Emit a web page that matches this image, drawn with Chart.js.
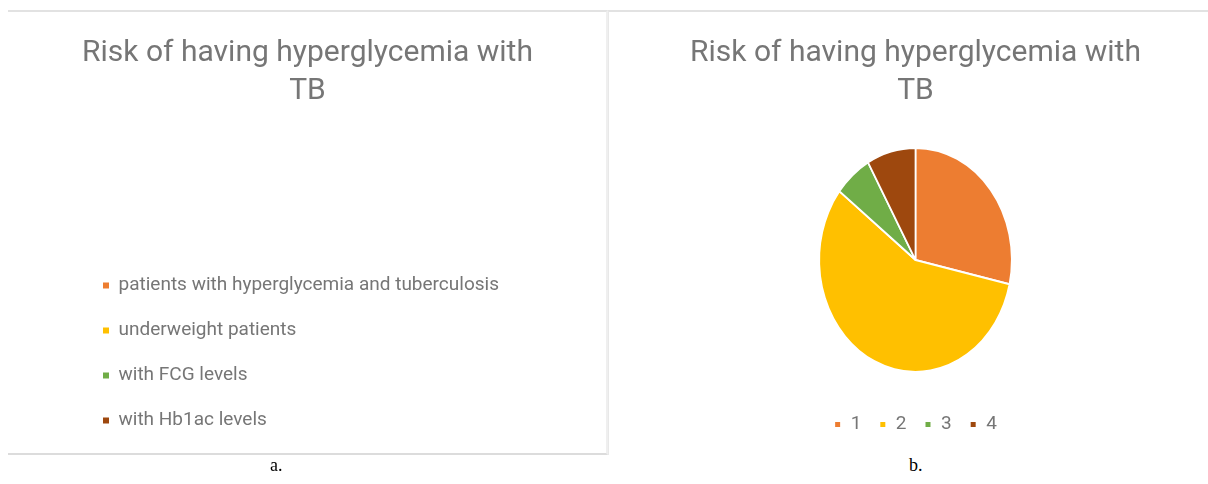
<!DOCTYPE html>
<html>
<head>
<meta charset="utf-8">
<script src="https://cdn.jsdelivr.net/npm/chart.js@4.4.1/dist/chart.umd.min.js"></script>
<style>
body{margin:0;background:#fff;width:1208px;height:484px;position:relative;overflow:hidden;}
.panel{position:absolute;box-sizing:border-box;}
#panelA{left:8px;top:10px;width:600px;height:445px;border-top:2px solid #e2e2e2;border-bottom:2px solid #dcdcdc;border-right:2px solid #efefef;}
#panelB{left:608px;top:10px;width:600px;height:445px;border-top:2px solid #e2e2e2;border-left:1px solid #e8e8e8;}
.panel canvas{display:block;}
#legendaA{position:absolute;left:0;top:238px;}
.cap{position:absolute;top:455px;font-family:"Liberation Serif",serif;font-size:18px;color:#000;}
</style>
</head>
<body>
<div class="panel" id="panelA">
<canvas id="graficoA" width="598" height="441"></canvas>
<canvas id="legendaA" width="598" height="212"></canvas>
</div>
<div class="panel" id="panelB"><canvas id="graficoB" width="599" height="443"></canvas></div>
<div class="cap" id="capA" style="left:270px"></div>
<div class="cap" id="capB" style="left:909px"></div>

<script>
/* =============================
DADOS
============================= */

const titleLines=["Risk of having hyperglycemia with","TB"];
const categoryNames=[
"patients with hyperglycemia and tuberculosis",
"underweight patients",
"with FCG levels",
"with Hb1ac levels"
];
const sliceLabels=["1","2","3","4"];
const riskShares=[28.5,57.0,6.3,8.2];
const sliceColors=["#ED7D31","#FFC000","#70AD47","#9E480E"];
const panelCaptions=["a.","b."];

const greyText="#767676";

document.getElementById("capA").innerText=panelCaptions[0];
document.getElementById("capB").innerText=panelCaptions[1];

/* =============================
ELIPSE (imagem original esticada)
============================= */

const squash={
id:"squash",
beforeDatasetsDraw(chart){
const arc=chart.getDatasetMeta(0).data[0];
if(!arc) return;
const ctx=chart.ctx;
ctx.save();
ctx.translate(arc.x,arc.y);
ctx.scale(0.86,1);
ctx.translate(-arc.x,-arc.y);
},
afterDatasetsDraw(chart){
if(chart.getDatasetMeta(0).data[0]) chart.ctx.restore();
}
};

const tituloCfg={
display:true,
text:titleLines,
color:greyText,
font:{family:"Roboto",size:30,weight:"normal",lineHeight:1.28},
padding:{top:22,bottom:12}
};

/* =============================
PAINEL A (título + legenda, sem pizza)
============================= */

new Chart(document.getElementById("graficoA"),{
type:"pie",
data:{
labels:categoryNames,
datasets:[{data:riskShares,backgroundColor:sliceColors,borderWidth:0,radius:0}]
},
options:{
responsive:false,
animation:false,
events:[],
layout:{padding:{left:69,right:68}},
plugins:{
title:tituloCfg,
tooltip:{enabled:false},
legend:{display:false}
}
}
});

/* legenda vertical em canvas próprio (evita o limite de largura da legenda lateral) */
new Chart(document.getElementById("legendaA"),{
type:"pie",
data:{
labels:categoryNames,
datasets:[{data:riskShares,backgroundColor:sliceColors,borderWidth:0,radius:0}]
},
options:{
responsive:false,
animation:false,
events:[],
layout:{padding:{left:69}},
plugins:{
tooltip:{enabled:false},
legend:{
position:"chartArea",
align:"start",
labels:{
color:greyText,
boxWidth:6,
boxHeight:6,
padding:26,
font:{family:"Roboto",size:19}
}
}
}
}
});

/* =============================
PAINEL B (pizza)
============================= */

new Chart(document.getElementById("graficoB"),{
type:"pie",
data:{
labels:sliceLabels,
datasets:[{data:riskShares,backgroundColor:sliceColors,borderColor:"#fff",borderWidth:2,radius:112}]
},
options:{
responsive:false,
animation:false,
events:[],
layout:{padding:{left:14,top:0,bottom:11}},
plugins:{
title:tituloCfg,
tooltip:{enabled:false},
legend:{
position:"bottom",
labels:{
color:greyText,
boxWidth:7,
boxHeight:7,
padding:18,
font:{family:"Roboto",size:19}
}
}
}
},
plugins:[squash]
});
</script>
</body>
</html>
